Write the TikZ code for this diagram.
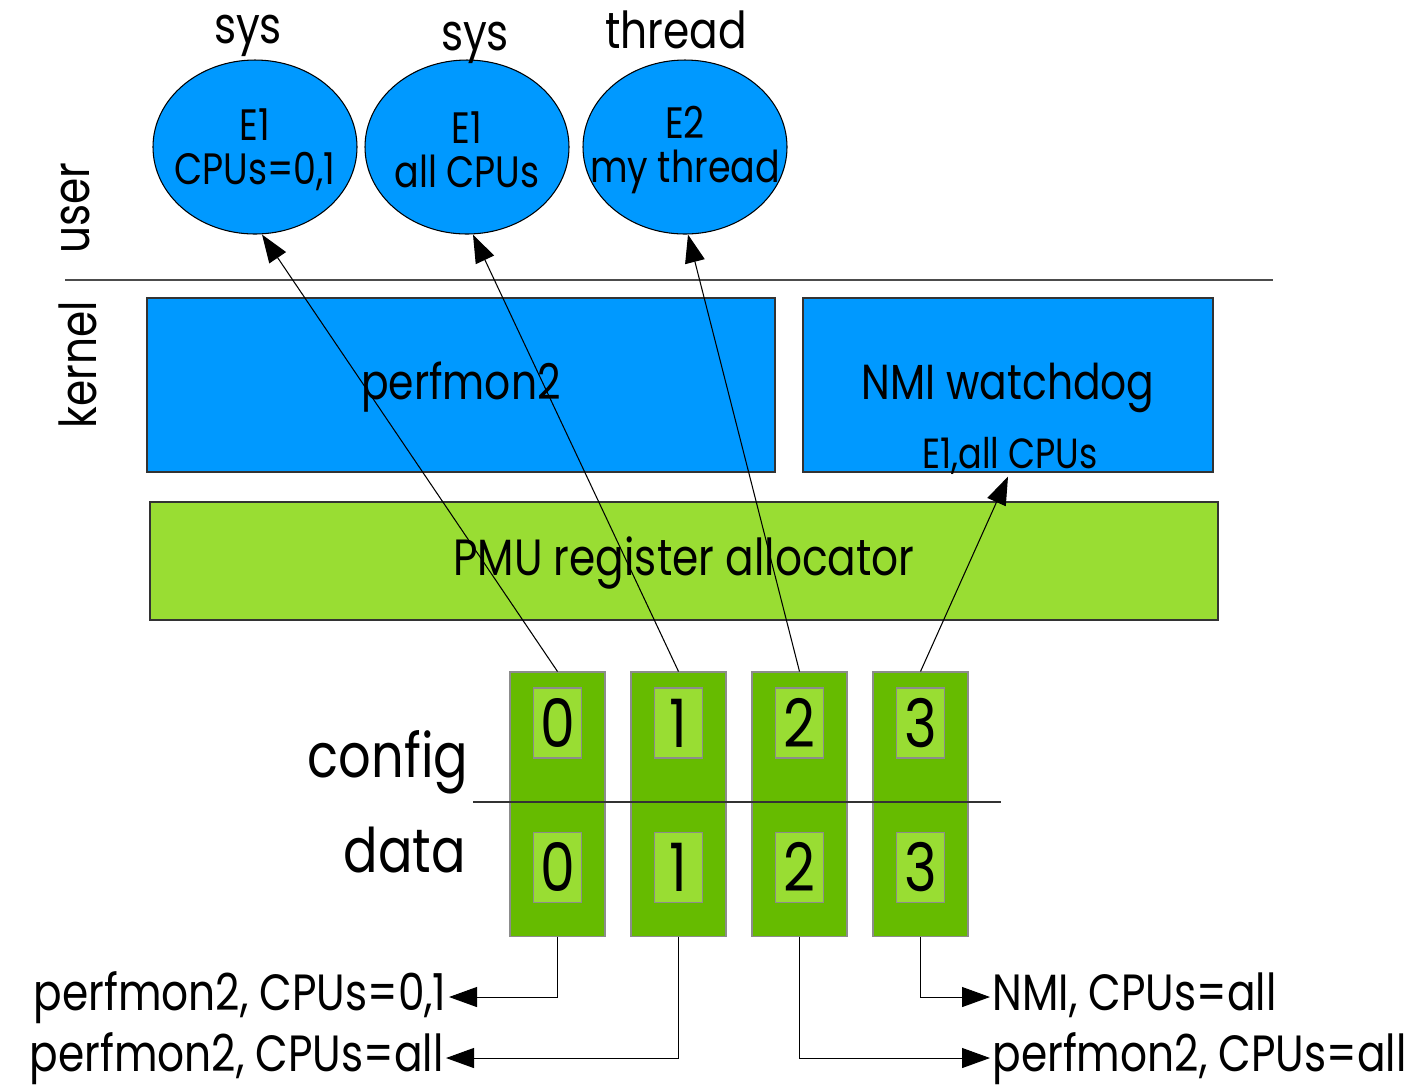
\documentclass[tikz,border=0pt]{standalone}
\usepackage{fontspec}
\setmainfont[FakeStretch=0.83]{Poppins}
\usepackage{tikz}
\usetikzlibrary{shapes.geometric,arrows.meta}
\definecolor{blupmu}{RGB}{0,153,255}
\definecolor{verdechiaro}{RGB}{153,221,51}
\definecolor{verdescuro}{RGB}{102,187,0}
\tikzstyle{eventoblu} = [ellipse,draw=black,line width=0.3pt,fill=blupmu,minimum width=2.04cm,minimum height=1.74cm,inner sep=0pt]
\tikzstyle{testoevento} = [align=center,inner sep=0pt,font=\fontsize{12.5}{12.5}\selectfont]
\tikzstyle{scatolablu} = [rectangle,draw=black!80,line width=0.3pt,fill=blupmu,minimum height=1.74cm,inner sep=0pt,text height=0.8em,text depth=0pt,font=\fontsize{14}{14}\selectfont]
\tikzstyle{registro} = [rectangle,draw=black!45,line width=0.3pt,fill=verdescuro,minimum width=0.95cm,minimum height=2.64cm,inner sep=0pt]
\tikzstyle{cella} = [rectangle,draw=black!45,line width=0.3pt,fill=verdechiaro,minimum width=0.48cm,minimum height=0.70cm,inner sep=0pt,font=\fontsize{19}{19}\selectfont]
\tikzstyle{etichetta} = [inner sep=0.5pt,text height=0.75em,text depth=0pt,font=\fontsize{14.5}{14.5}\selectfont]
\tikzstyle{arrow} = [line width=0.3pt,-{Triangle[length=0.28cm,width=0.2cm]}]

\begin{document}
\begin{tikzpicture}
\useasboundingbox (0,0) rectangle (14.06,-10.87);

% 1px = 0.01cm, y goes down

\node (e1) [eventoblu,xshift=2.55cm,yshift=-1.47cm] {};
\node (e2) [eventoblu,right of=e1,xshift=1.12cm] {};
\node (e3) [eventoblu,right of=e2,xshift=1.18cm] {};
\node (e1t) [testoevento,yshift=-0.03cm] at (e1) {E1\\CPUs=0,1};
\node (e2t) [testoevento,yshift=-0.03cm] at (e2) {E1\\all CPUs};
\node (e3t) [testoevento,yshift=-0.03cm] at (e3) {E2\\my thread};

\node (sys1) [font=\fontsize{14.5}{14.5}\selectfont,xshift=2.48cm,yshift=-0.36cm] {sys};
\node (sys2) [font=\fontsize{14.5}{14.5}\selectfont,xshift=4.75cm,yshift=-0.43cm] {sys};
\node (thr)  [font=\fontsize{14.5}{14.5}\selectfont,xshift=6.76cm,yshift=-0.30cm] {thread};

\node (lbluser)   [rotate=90,font=\fontsize{14.5}{14.5}\selectfont] at (0.76,-2.08) {user};
\node (lblkernel) [rotate=90,font=\fontsize{14.5}{14.5}\selectfont] at (0.78,-3.65) {kernel};

\coordinate (sepA) at (0.65,-2.80);
\coordinate (sepB) at (12.73,-2.80);
\draw[black!70,line width=0.3pt] (sepA) -- (sepB);

\node (perf) [scatolablu,minimum width=6.28cm,xshift=4.61cm,yshift=-3.85cm] {perfmon2};
\node (nmi)  [scatolablu,minimum width=4.10cm,xshift=10.08cm,yshift=-3.85cm] {};
\node (nmit) [text height=0.8em,text depth=0pt,font=\fontsize{14}{14}\selectfont,xshift=10.08cm,yshift=-3.85cm] {NMI watchdog};
\node (nmie) [font=\fontsize{12}{12}\selectfont,xshift=10.10cm,yshift=-4.56cm] {E1,all CPUs};

\node (pmu) [rectangle,draw=black!80,line width=0.3pt,fill=verdechiaro,minimum width=10.68cm,minimum height=1.18cm,text height=0.8em,text depth=0pt,font=\fontsize{14.5}{14.5}\selectfont,xshift=6.84cm,yshift=-5.61cm] {PMU register allocator};

\node (reg0) [registro,xshift=5.575cm,yshift=-8.04cm] {};
\node (reg1) [registro,right of=reg0,xshift=0.21cm] {};
\node (reg2) [registro,right of=reg1,xshift=0.21cm] {};
\node (reg3) [registro,right of=reg2,xshift=0.21cm] {};

\node (cfg0) [cella,above of=reg0,yshift=-0.19cm] {0};
\node (cfg1) [cella,above of=reg1,yshift=-0.19cm] {1};
\node (cfg2) [cella,above of=reg2,yshift=-0.19cm] {2};
\node (cfg3) [cella,above of=reg3,yshift=-0.19cm] {3};
\node (dat0) [cella,below of=reg0,yshift=0.37cm] {0};
\node (dat1) [cella,below of=reg1,yshift=0.37cm] {1};
\node (dat2) [cella,below of=reg2,yshift=0.37cm] {2};
\node (dat3) [cella,below of=reg3,yshift=0.37cm] {3};

\coordinate (sepC) at (4.73,-8.02);
\coordinate (sepD) at (10.01,-8.02);
\draw[black!80,line width=0.3pt] (sepC) -- (sepD);

\node (lblcfg) [font=\fontsize{17.5}{17.5}\selectfont,xshift=3.88cm,yshift=-7.62cm] {config};
\node (lbldat) [font=\fontsize{17.5}{17.5}\selectfont,xshift=4.05cm,yshift=-8.50cm] {data};

\node (out0) [etichetta,anchor=east] at (4.49,-9.97) {perfmon2, CPUs=0,1};
\node (out1) [etichetta,anchor=east] at (4.46,-10.58) {perfmon2, CPUs=all};
\node (out3) [etichetta,anchor=west] at (9.90,-9.97) {NMI, CPUs=all};
\node (out2) [etichetta,anchor=west] at (9.90,-10.58) {perfmon2, CPUs=all};

\draw[arrow] (reg0.north) -- ([xshift=0.07cm]e1.south);
\draw[arrow] (reg1.north) -- ([xshift=0.06cm]e2.south);
\draw[arrow] (reg2.north) -- ([xshift=0.03cm]e3.south);
\draw[arrow] (reg3.north) -- ([yshift=-0.04cm]nmi.south);

\draw[arrow] (reg0.south) |- (out0.east);
\draw[arrow] (reg1.south) |- (out1.east);
\draw[arrow] (reg2.south) |- (out2.west);
\draw[arrow] (reg3.south) |- (out3.west);

\end{tikzpicture}
\end{document}
